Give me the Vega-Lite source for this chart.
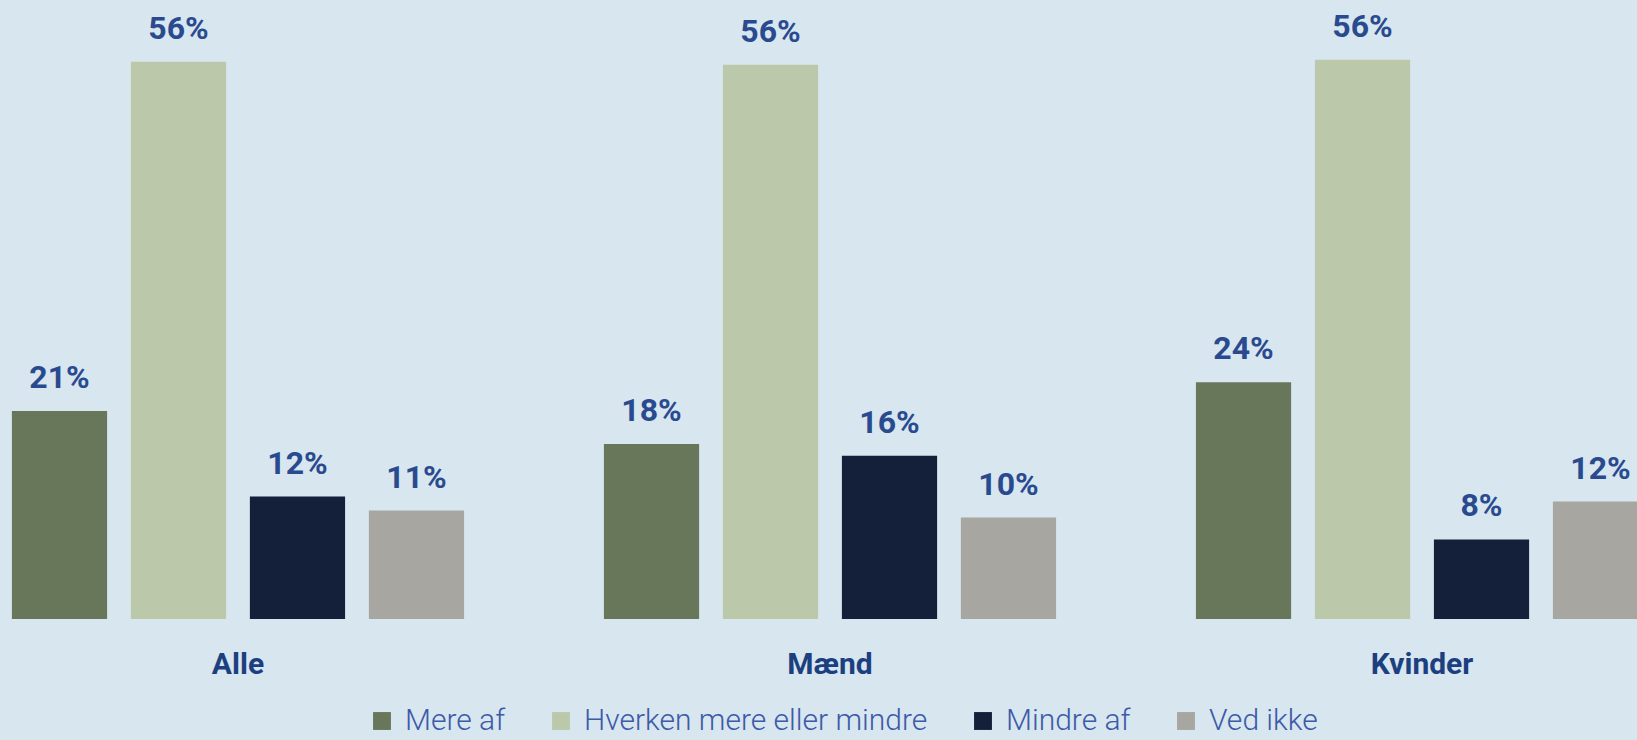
{
  "$schema": "https://vega.github.io/schema/vega-lite/v6.json",
  "width": 1637,
  "height": 597,
  "autosize": {"type": "none"},
  "padding": {"left": 0, "top": 22, "right": 0, "bottom": 121},
  "background": "#d7e6ef",
  "config": {"view": {"stroke": null}},
  "data": {
    "values": [
      {"gruppe": "Alle", "svar": "Mere af", "andel": 0.209},
      {"gruppe": "Alle", "svar": "Hverken mere eller mindre", "andel": 0.560},
      {"gruppe": "Alle", "svar": "Mindre af", "andel": 0.123},
      {"gruppe": "Alle", "svar": "Ved ikke", "andel": 0.109},
      {"gruppe": "Mænd", "svar": "Mere af", "andel": 0.176},
      {"gruppe": "Mænd", "svar": "Hverken mere eller mindre", "andel": 0.557},
      {"gruppe": "Mænd", "svar": "Mindre af", "andel": 0.164},
      {"gruppe": "Mænd", "svar": "Ved ikke", "andel": 0.102},
      {"gruppe": "Kvinder", "svar": "Mere af", "andel": 0.238},
      {"gruppe": "Kvinder", "svar": "Hverken mere eller mindre", "andel": 0.562},
      {"gruppe": "Kvinder", "svar": "Mindre af", "andel": 0.080},
      {"gruppe": "Kvinder", "svar": "Ved ikke", "andel": 0.118}
    ]
  },
  "encoding": {
    "x": {
      "field": "gruppe",
      "type": "nominal",
      "sort": ["Alle", "Mænd", "Kvinder"],
      "scale": {"range": [0, 1660], "paddingInner": 0.196, "paddingOuter": 0},
      "axis": {
        "title": null,
        "orient": "bottom",
        "domain": false,
        "ticks": false,
        "labelAngle": 0,
        "labelFont": "Roboto, sans-serif",
        "labelFontWeight": "bold",
        "labelFontSize": 30,
        "labelColor": "#1c3f80",
        "labelPadding": 30
      }
    },
    "xOffset": {
      "field": "svar",
      "type": "nominal",
      "sort": ["Mere af", "Hverken mere eller mindre", "Mindre af", "Ved ikke"],
      "scale": {"paddingInner": 0.2, "paddingOuter": 0.1}
    },
    "y": {
      "field": "andel",
      "type": "quantitative",
      "scale": {"domain": [0, 0.6]},
      "axis": null
    }
  },
  "layer": [
    {
      "mark": {"type": "bar", "clip": true},
      "encoding": {
        "color": {
          "field": "svar",
          "type": "nominal",
          "sort": ["Mere af", "Hverken mere eller mindre", "Mindre af", "Ved ikke"],
          "scale": {
            "domain": ["Mere af", "Hverken mere eller mindre", "Mindre af", "Ved ikke"],
            "range": ["#68765a", "#bbc8a9", "#141f3a", "#a7a6a1"]
          },
          "legend": {
            "title": null,
            "orient": "none",
            "direction": "horizontal",
            "legendX": 367,
            "legendY": 684,
            "symbolType": "square",
            "symbolSize": 320,
            "symbolStrokeWidth": 0,
            "labelFont": "Roboto, sans-serif",
            "labelFontWeight": 300,
            "labelFontSize": 30,
            "labelColor": "#3d5aa8",
            "labelOffset": 8,
            "columnPadding": 40,
            "labelLimit": 500
          }
        }
      }
    },
    {
      "mark": {
        "type": "text",
        "baseline": "bottom",
        "dy": -16,
        "font": "Roboto, sans-serif",
        "fontWeight": "bold",
        "fontSize": 32,
        "color": "#2a4a8f"
      },
      "encoding": {
        "text": {"field": "andel", "type": "quantitative", "format": ".0%"}
      }
    }
  ]
}
